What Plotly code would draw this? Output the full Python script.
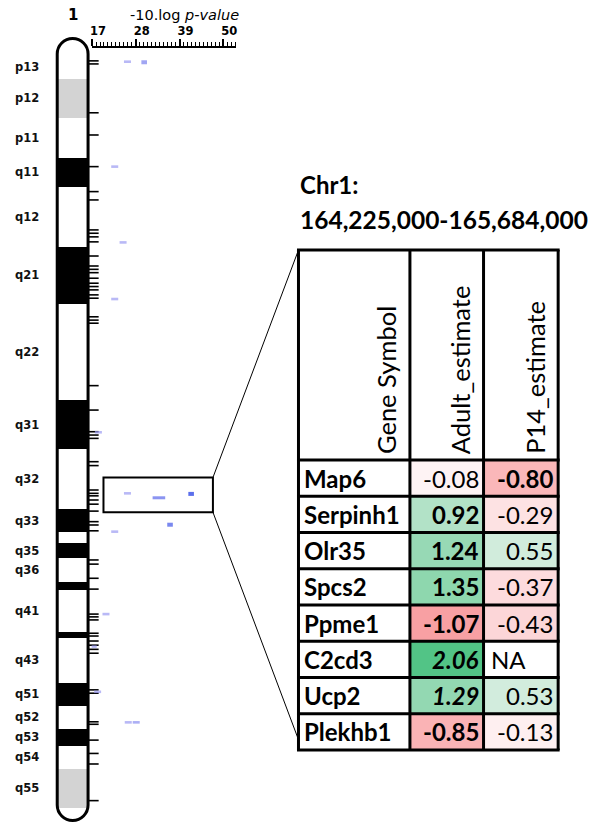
import plotly.graph_objects as go

W, H = 591, 823

# ------------------------------------------------------------------ data
CHR_NAME = "1"
CHR_LEN_MB = 282.8
band_names = ["p13", "p12", "p11", "q11", "q12", "q21", "q22", "q31", "q32", "q33", "q34",
              "q35", "q36", "q37", "q41", "q42", "q43", "q51", "q52", "q53", "q54", "q55"]
band_starts = [6.5, 15.1, 29.2, 43.6, 53.9, 75.5, 96.2, 130.8, 148.4, 170.2, 178.3,
               182.3, 187.7, 196.3, 199.2, 214.3, 216.5, 232.7, 241.0, 249.3, 255.4, 263.7]
band_ends = band_starts[1:] + [277.7]
band_stain = ["white", "gray", "white", "black", "white", "black", "white", "black", "white", "black", "white",
              "black", "white", "black", "white", "black", "white", "black", "white", "black", "white", "gray"]
unlabeled_bands = ["q34", "q37", "q42"]

marker_pos_mb = [8.6, 9.7, 27.3, 35.3, 46.7, 55.7, 58.7, 69.5, 70.7, 72.0, 73.8, 78.9, 82.5, 83.7,
                 84.9, 86.9, 88.7, 89.9, 91.1, 92.9, 94.1, 100.8, 102.0, 103.1, 125.6, 134.4, 142.2,
                 143.4, 144.6, 153.0, 154.4, 163.2, 164.4, 165.3, 166.8, 168.3, 170.8, 174.6, 175.8,
                 177.9, 188.4, 189.9, 195.0, 198.9, 207.9, 208.9, 210.0, 214.8, 215.8, 217.6, 219.1,
                 220.6, 222.0, 235.2, 236.4, 246.7, 247.6, 253.3, 258.1, 261.9, 275.1]

hit_pos_mb = [8.9, 9.1, 46.7, 74.0, 94.4, 142.4, 164.4, 166.0, 164.6, 178.2, 175.7, 207.9,
              219.6, 235.9, 246.9, 246.9]
hit_logp = [25.9, 30.1, 22.7, 24.8, 22.7, 18.6, 25.9, 33.8, 41.9, 22.7, 36.6, 20.5,
            17.3, 18.4, 26.1, 28.1]
logp_ticks = [17, 28, 39, 50]

region_start_bp = 164225000
region_end_bp = 165684000

genes = ["Map6", "Serpinh1", "Olr35", "Spcs2", "Ppme1", "C2cd3", "Ucp2", "Plekhb1"]
adult_est = [-0.08, 0.92, 1.24, 1.35, -1.07, 2.06, 1.29, -0.85]
p14_est = [-0.80, -0.29, 0.55, -0.37, -0.43, None, 0.53, -0.13]
adult_bold = [False, True, True, True, True, True, True, True]
adult_italic = [False, False, False, False, False, True, True, False]
p14_bold = [True, False, False, False, False, False, False, False]
headers = ["Gene Symbol", "Adult_estimate", "P14_estimate"]

# ------------------------------------------------------------------ layout constants
CHR_TOP_PX = 37
PX_PER_MB = 785 / CHR_LEN_MB
CHR_CX = 71          # ideogram centre (x units of the ideogram axis = px)
CHR_W = 31
STAIN_COL = {"white": "#ffffff", "gray": "#d3d3d3", "black": "#000000"}
TFONT = "Lato"

def mb_of_px(p):
    return (p - CHR_TOP_PX) / PX_PER_MB

TABLE_LEFT, TABLE_TOP = 298, 250
COL_W = [112, 74, 75]
HEAD_H = 210
ROW_H = 36.25
col_edges = [0]
for w in COL_W:
    col_edges.append(col_edges[-1] + w)
row_edges = [HEAD_H + i * ROW_H for i in range(len(genes) + 1)]
TABLE_W = col_edges[-1]
TABLE_H = row_edges[-1]

fig = go.Figure()

# ---- chromosome bands
fig.add_trace(go.Bar(
    x=[CHR_CX] * len(band_names),
    y=[e - s for s, e in zip(band_starts, band_ends)],
    base=band_starts,
    width=CHR_W,
    marker=dict(color=[STAIN_COL[s] for s in band_stain], line=dict(width=0)),
    hoverinfo="skip", xaxis="x", yaxis="y", showlegend=False,
))

# ---- marker ticks next to the chromosome
fig.add_trace(go.Scatter(
    x=[CHR_CX + CHR_W / 2 + 5] * len(marker_pos_mb), y=marker_pos_mb,
    mode="markers",
    marker=dict(symbol="line-ew", size=8, line=dict(width=1.6, color="black")),
    hoverinfo="skip", xaxis="x", yaxis="y", showlegend=False,
))

# ---- association hits
sizes, lws = [], []
for v in hit_logp:
    if 32 < v < 35:
        sizes.append(9); lws.append(3)
    elif v > 29:
        sizes.append(4); lws.append(4)
    else:
        sizes.append(5); lws.append(2.6)
fig.add_trace(go.Scatter(
    x=hit_logp, y=hit_pos_mb, mode="markers",
    marker=dict(symbol="line-ew", size=sizes,
                line=dict(width=lws, color=hit_logp, cmin=26, cmax=42,
                          colorscale=[[0, "#9c9cf3"], [1, "#1632e4"]])),
    hoverinfo="skip", xaxis="x2", yaxis="y", showlegend=False,
))

# ---- table cells heatmap
z = []
for a, p in zip(adult_est, p14_est):
    z.append([None, a, p])
fig.add_trace(go.Heatmap(
    x=col_edges, y=row_edges, z=z, zmin=-2.06, zmax=2.06,
    colorscale=[[0, "#f24d52"], [0.5, "#fffafb"], [1, "#52c486"]],
    showscale=False, hoverinfo="skip", xaxis="x3", yaxis="y3",
))

shapes = []
ann = []

# chromosome outline
k = 0.5523
x0, x1 = CHR_CX - CHR_W / 2, CHR_CX + CHR_W / 2
rx = CHR_W / 2
ry = rx / PX_PER_MB
yt = mb_of_px(CHR_TOP_PX + 1.5)
yb = mb_of_px(CHR_TOP_PX + CHR_LEN_MB * PX_PER_MB - 1.5)
path = (f"M {x0},{yt+ry} C {x0},{yt+ry-k*ry} {CHR_CX-k*rx},{yt} {CHR_CX},{yt} "
        f"C {CHR_CX+k*rx},{yt} {x1},{yt+ry-k*ry} {x1},{yt+ry} "
        f"L {x1},{yb-ry} C {x1},{yb-ry+k*ry} {CHR_CX+k*rx},{yb} {CHR_CX},{yb} "
        f"C {CHR_CX-k*rx},{yb} {x0},{yb-ry+k*ry} {x0},{yb-ry} Z")
shapes.append(dict(type="path", path=path, xref="x", yref="y",
                   line=dict(color="black", width=3), layer="above"))

# band labels
for n, s, e in zip(band_names, band_starts, band_ends):
    if n in unlabeled_bands:
        continue
    ann.append(dict(x=11 / W, xref="paper", xanchor="left", y=(s + e) / 2, yref="y",
                    yanchor="middle", text=n, showarrow=False,
                    font=dict(family="DejaVu Sans", size=11.5, color="#111", weight="bold")))
ann.append(dict(x=CHR_CX, xref="x", xanchor="center", y=1 - 15 / H, yref="paper", yanchor="middle",
                text=CHR_NAME, showarrow=False,
                font=dict(family="DejaVu Sans", size=15, color="black", weight="bold")))
ann.append(dict(x=183 / W, xref="paper", xanchor="center", y=1 - 15 / H, yref="paper", yanchor="middle",
                text="-10.log <i>p-value</i>", showarrow=False,
                font=dict(family="DejaVu Sans", size=14.5, color="black")))

# zoom box
r0 = region_start_bp / 1e6
r1 = region_end_bp / 1e6
box_y0, box_y1 = r0 - 5.5, r1 + 5.5
BOX_X0, BOX_X1 = 102, 212
shapes.append(dict(type="rect", xref="x", yref="y", x0=BOX_X0, x1=BOX_X1, y0=box_y0, y1=box_y1,
                   line=dict(color="black", width=2)))
shapes.append(dict(type="line", xref="x", yref="y", x0=BOX_X1, y0=box_y0,
                   x1=TABLE_LEFT, y1=mb_of_px(TABLE_TOP), line=dict(color="black", width=1)))
shapes.append(dict(type="line", xref="x", yref="y", x0=BOX_X1, y0=box_y1,
                   x1=TABLE_LEFT - 1, y1=mb_of_px(TABLE_TOP + TABLE_H - 13), line=dict(color="black", width=1)))

# title
ann.append(dict(x=TABLE_LEFT / W, xref="paper", xanchor="left", y=1 - 185 / H, yref="paper",
                yanchor="middle", text=f"Chr{CHR_NAME}:", showarrow=False,
                font=dict(family=TFONT, size=24, color="black", weight="bold")))
ann.append(dict(x=TABLE_LEFT / W, xref="paper", xanchor="left", y=1 - 219 / H, yref="paper",
                yanchor="middle", text=f"{region_start_bp:,}-{region_end_bp:,}", showarrow=False,
                font=dict(family=TFONT, size=24.5, color="black", weight="bold")))

# table grid
for xe in col_edges:
    shapes.append(dict(type="line", xref="x3", yref="y3", x0=xe, x1=xe, y0=0, y1=TABLE_H,
                       line=dict(color="black", width=3)))
shapes.append(dict(type="line", xref="x3", yref="y3", x0=-1.5, x1=TABLE_W + 1.5, y0=0, y1=0,
                   line=dict(color="black", width=3)))
for ye in row_edges:
    shapes.append(dict(type="line", xref="x3", yref="y3", x0=-1.5, x1=TABLE_W + 1.5, y0=ye, y1=ye,
                       line=dict(color="black", width=3)))

# headers
for j, h in enumerate(headers):
    ann.append(dict(x=col_edges[j + 1] - 24, xref="x3", y=HEAD_H - 4, yref="y3",
                    xanchor="center", yanchor="bottom", textangle=-90, text=h, showarrow=False,
                    font=dict(family=TFONT, size=25.5, color="black")))

def fmt(v, b, it):
    s = f"{v:.2f}"
    if it:
        s = f"<i>{s}</i>"
    if b:
        s = f"<b>{s}</b>"
    return s

CELL_FS = 24
for i, g in enumerate(genes):
    yc = (row_edges[i] + row_edges[i + 1]) / 2
    ann.append(dict(x=4, xref="x3", y=yc, yref="y3", xanchor="left", yanchor="middle",
                    text=f"<b>{g}</b>", showarrow=False,
                    font=dict(family=TFONT, size=CELL_FS, color="black")))
    ann.append(dict(x=col_edges[2] - 3, xref="x3", y=yc, yref="y3", xanchor="right", yanchor="middle",
                    text=fmt(adult_est[i], adult_bold[i], adult_italic[i]), showarrow=False,
                    font=dict(family=TFONT, size=CELL_FS, color="black")))
    if p14_est[i] is None:
        ann.append(dict(x=col_edges[2] + 5, xref="x3", y=yc, yref="y3", xanchor="left", yanchor="middle",
                        text="NA", showarrow=False, font=dict(family=TFONT, size=CELL_FS, color="black")))
    else:
        ann.append(dict(x=col_edges[3] - 3, xref="x3", y=yc, yref="y3", xanchor="right", yanchor="middle",
                        text=fmt(p14_est[i], p14_bold[i], False), showarrow=False,
                        font=dict(family=TFONT, size=CELL_FS, color="black")))

RULER_Y = 46.5
PX_PER_UNIT = 4.0
x2_lo, x2_hi = 16.9, 53.15
x2_px0 = 90.5 + (x2_lo - 17) * PX_PER_UNIT
x2_px1 = 90.5 + (x2_hi - 17) * PX_PER_UNIT

fig.update_layout(
    width=W, height=H, margin=dict(l=0, r=0, t=0, b=0),
    paper_bgcolor="white", plot_bgcolor="rgba(0,0,0,0)",
    showlegend=False, bargap=0,
    xaxis=dict(domain=[0, 1], range=[0, W], visible=False, fixedrange=True),
    yaxis=dict(domain=[0, 1], range=[mb_of_px(H), mb_of_px(0)], visible=False, fixedrange=True),
    xaxis2=dict(domain=[x2_px0 / W, x2_px1 / W], range=[x2_lo, x2_hi], anchor="free",
                position=1 - RULER_Y / H, side="top", showline=True, linecolor="black", linewidth=1.5,
                ticks="outside", ticklen=7, tickwidth=1.5, tickcolor="black",
                tickvals=logp_ticks, ticktext=[str(t) for t in logp_ticks], ticklabelshift=6,
                ticklabelstandoff=-1,
                tickfont=dict(family="DejaVu Sans", size=11.5, color="black", weight="bold"),
                showgrid=False, zeroline=False, fixedrange=True,
                minor=dict(ticks="outside", dtick=1, tick0=17, ticklen=4, tickwidth=1,
                           tickcolor="black", showgrid=False)),
    xaxis3=dict(domain=[(TABLE_LEFT - 3) / W, (TABLE_LEFT + TABLE_W + 3) / W], range=[-3, TABLE_W + 3],
                anchor="y3", visible=False, fixedrange=True),
    yaxis3=dict(domain=[1 - (TABLE_TOP + TABLE_H + 3) / H, 1 - (TABLE_TOP - 3) / H],
                range=[TABLE_H + 3, -3], anchor="x3", visible=False, fixedrange=True),
    shapes=shapes, annotations=ann,
)

fig.write_html("out.html")
